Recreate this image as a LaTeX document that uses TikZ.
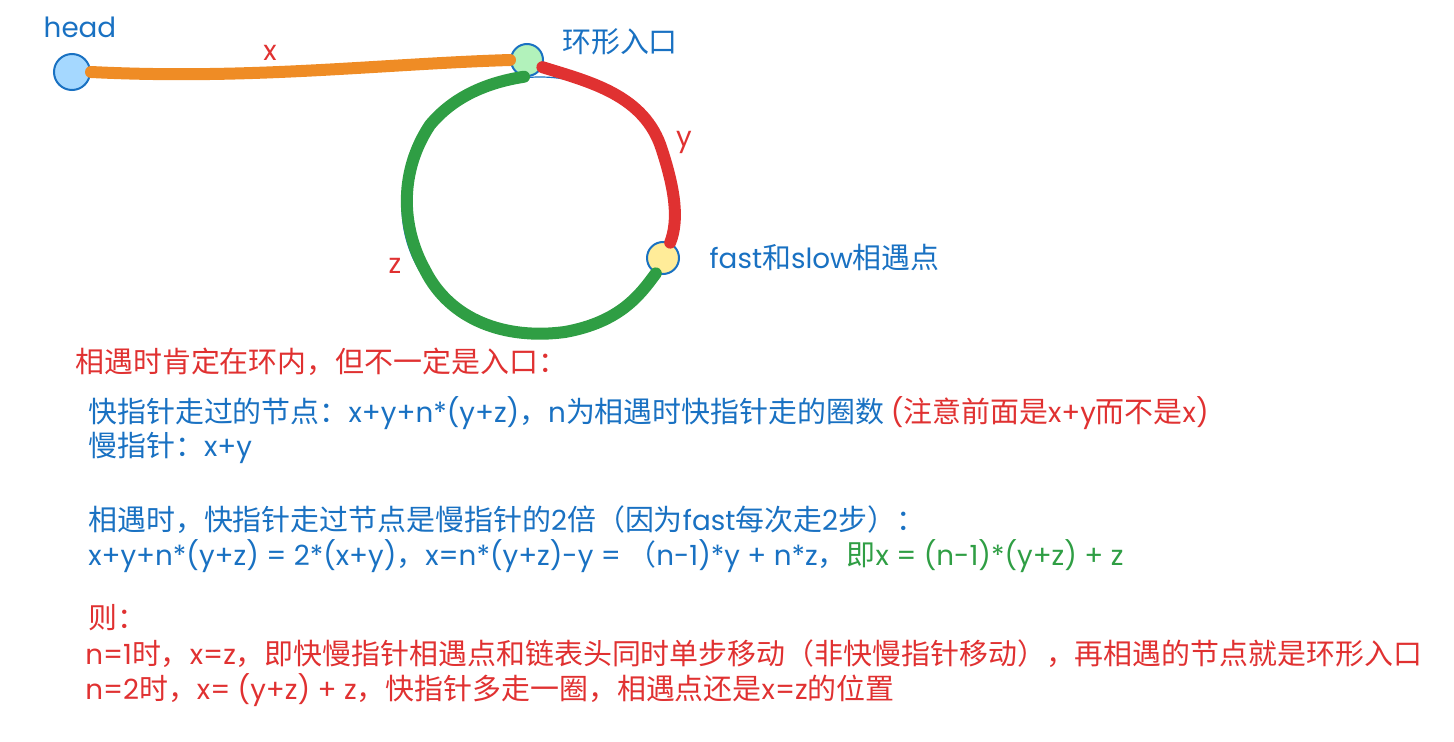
\documentclass[tikz,border=0pt]{standalone}
\usepackage{fontspec}
\setmainfont{Noto Sans CJK SC}
\newfontfamily\latinfnt[Scale=0.96]{Poppins}
\newcommand\ltn[1]{{\latinfnt #1}}
\usepackage{tikz}
\usetikzlibrary{positioning}

\definecolor{cblue}{HTML}{1971C2}
\definecolor{cred}{HTML}{E03131}
\definecolor{cgreen}{HTML}{2F9E44}
\definecolor{corange}{HTML}{EF8C25}
\definecolor{lblue}{HTML}{A5D8FF}
\definecolor{lgreen}{HTML}{B2F2BB}
\definecolor{lyellow}{HTML}{FFEC99}

\begin{document}
\begin{tikzpicture}[x=0.75pt,y=-0.75pt,
    font=\fontsize{21.7}{25}\selectfont,
    knude/.style={circle,draw=cblue,line width=1.5pt,minimum size=24pt,inner sep=0pt},
    streg/.style={line width=9pt,line cap=round,line join=round},
    blaa/.style={text=cblue,anchor=west,inner sep=0pt},
    roed/.style={text=cred,anchor=west,inner sep=0pt}]
    \useasboundingbox (0,0) rectangle (1454,742);
    % Ringen (tynd linje under stregerne)
    \draw[cblue,line width=0.9pt] (540,207) ellipse (138 and 130);
    % Knuder
    \node[knude,fill=lblue,minimum size=27pt] (head) at (72,72) {};
    \node[knude,fill=lgreen] (entry) at (527,60) {};
    \node[knude,fill=lyellow] (meet) at (663,258) {};
    % Stregerne x, y og z
    \draw[streg,corange] (head.east) .. controls (250,80) and (380,64) .. (entry.west);
    \draw[streg,cred] (entry.-25) .. controls (590,82) and (645,95) .. (662,150)
        .. controls (675,190) and (679,220) .. (meet.65);
    \draw[streg,cgreen] (meet.-115) .. controls (640,295) and (620,322) .. (565,332)
        .. controls (505,340) and (450,320) .. (425,270)
        .. controls (400,225) and (400,170) .. (430,125)
        .. controls (455,95) and (490,82) .. (entry.-100);
    \foreach \n/\t/\p in {lx/x/{(270,53)},ly/y/{(684,142)},lz/z/{(395,266)}}
      \node[text=cred] (\n) at \p {\ltn{\t}};
    % Etiketter
    \node[text=cblue] (headlbl) at (80,27) {\ltn{head}};
    \node[text=cblue] (entrylbl) at (620,42) {环形入口};
    \node[blaa,right=22pt of meet] (meetlbl) {\ltn{fast}和\ltn{slow}相遇点};
    % Forklaring
    \node[roed] (t1) at (75,362) {相遇时肯定在环内，但不一定是入口：};
    \node[blaa] (t2) at (88,413) {快指针走过的节点：\ltn{x+y+n*(y+z)}，\ltn{n}为相遇时快指针走的圈数 \textcolor{cred}{\ltn{(}注意前面是\ltn{x+y}而不是\ltn{x)}}};
    \node[blaa] (t3) at (88,448) {慢指针：\ltn{x+y}};
    \node[blaa] (t4) at (88,520) {相遇时，快指针走过节点是慢指针的\ltn{2}倍（因为\ltn{fast}每次走\ltn{2}步）：};
    \node[blaa] (t5) at (88,556) {\ltn{x+y+n*(y+z) = 2*(x+y)}，\ltn{x=n*(y+z)-y =} （\ltn{n-1)*y + n*z}，\textcolor{cgreen}{即\ltn{x = (n-1)*(y+z) + z}}};
    \node[roed] (t6) at (88,618) {则：};
    \node[roed] (t7) at (85,654) {\ltn{n=1}时，\ltn{x=z}，即快慢指针相遇点和链表头同时单步移动（非快慢指针移动），再相遇的节点就是环形入口};
    \node[roed] (t8) at (85,690) {\ltn{n=2}时，\ltn{x= (y+z) + z}，快指针多走一圈，相遇点还是\ltn{x=z}的位置};
\end{tikzpicture}
\end{document}
